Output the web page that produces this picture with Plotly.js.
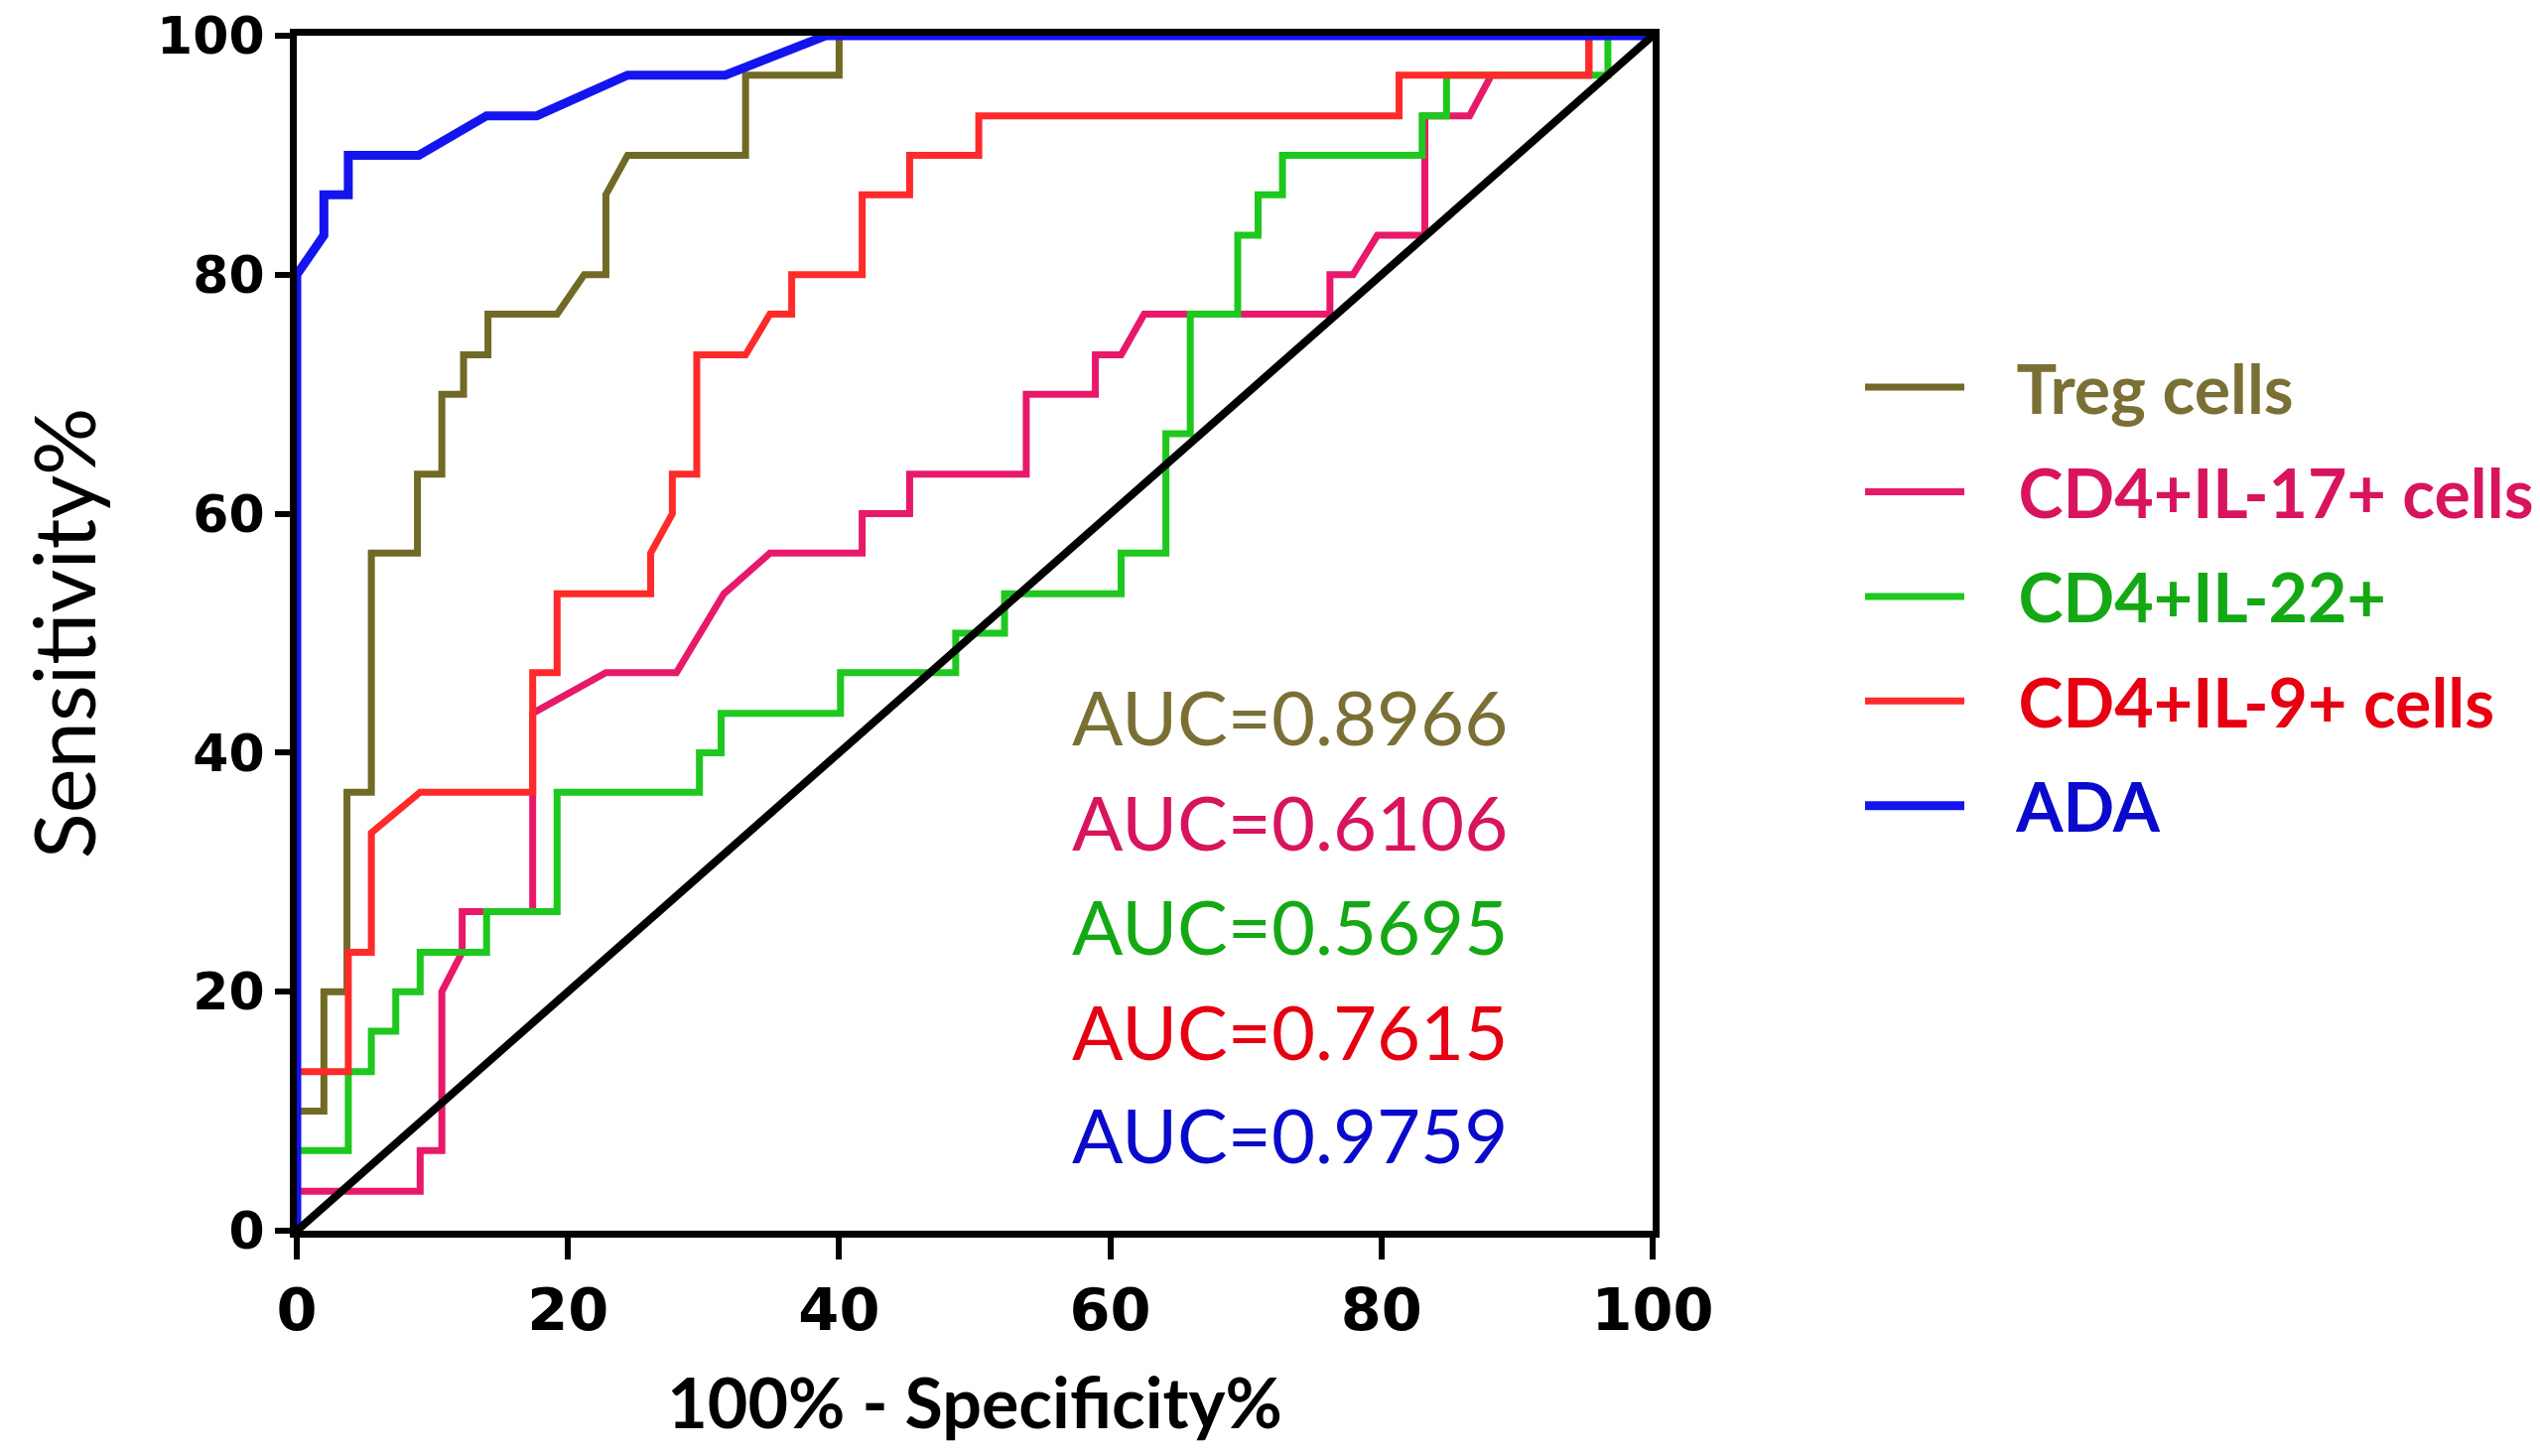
<!DOCTYPE html>
<html>
<head>
<meta charset="utf-8">
<script src="https://cdn.plot.ly/plotly-3.0.1.min.js"></script>
<style>
html,body{margin:0;padding:0;background:#fff;}
#chart{width:2559px;height:1467px;}
</style>
</head>
<body>
<div id="chart"></div>
<script>
// ---- data ----
const seriesNames = ["Treg cells", "CD4+IL-17+ cells", "CD4+IL-22+", "CD4+IL-9+ cells", "ADA"];
const aucValues = ["0.8966", "0.6106", "0.5695", "0.7615", "0.9759"];

const fprTreg = [0,0,2,2,3.7,3.7,5.5,5.5,8.9,8.9,10.7,10.7,12.3,12.3,14.1,14.1,19.2,21.2,22.8,22.8,24.4,33.1,33.1,40,40,100];
const tprTreg = [0,10,10,20,20,36.7,36.7,56.7,56.7,63.3,63.3,70,70,73.3,73.3,76.7,76.7,80,80,86.7,90,90,96.7,96.7,100,100];

const fprIL17 = [0,0,9.1,9.1,10.7,10.7,12.2,12.2,17.4,17.4,22.8,28,31.5,34.9,41.7,41.7,45.2,45.2,53.8,53.8,58.9,58.9,60.8,62.5,76.2,76.2,77.9,79.7,83.2,83.2,86.5,88.1,95.3,95.3,100];
const tprIL17 = [0,3.3,3.3,6.7,6.7,20,23.3,26.7,26.7,43.3,46.7,46.7,53.3,56.7,56.7,60,60,63.3,63.3,70,70,73.3,73.3,76.7,76.7,80,80,83.3,83.3,93.3,93.3,96.7,96.7,100,100];

const fprIL22 = [0,0,3.8,3.8,5.5,5.5,7.3,7.3,9.1,9.1,14,14,19.2,19.2,29.7,29.7,31.3,31.3,40.1,40.1,48.6,48.6,52.2,52.2,60.8,60.8,64.1,64.1,65.9,65.9,69.4,69.4,70.9,70.9,72.7,72.7,83,83,84.8,84.8,96.7,96.7,100];
const tprIL22 = [0,6.7,6.7,13.3,13.3,16.7,16.7,20,20,23.3,23.3,26.7,26.7,36.7,36.7,40,40,43.3,43.3,46.7,46.7,50,50,53.3,53.3,56.7,56.7,66.7,66.7,76.7,76.7,83.3,83.3,86.7,86.7,90,90,93.3,93.3,96.7,96.7,100,100];

const fprIL9 = [0,0,3.8,3.8,5.5,5.5,9.1,17.4,17.4,19.2,19.2,26.1,26.1,27.7,27.7,29.5,29.5,33.1,34.9,36.5,36.5,41.7,41.7,45.2,45.2,50.3,50.3,81.3,81.3,95.3,95.3,100];
const tprIL9 = [0,13.3,13.3,23.3,23.3,33.3,36.7,36.7,46.7,46.7,53.3,53.3,56.7,60,63.3,63.3,73.3,73.3,76.7,76.7,80,80,86.7,86.7,90,90,93.3,93.3,96.7,96.7,100,100];

const fprADA = [0,0,2,2,3.8,3.8,9,14,17.7,24.4,31.6,39,100];
const tprADA = [0,80,83.3,86.7,86.7,90,90,93.3,93.3,96.7,96.7,100,100];

const refLine = [0, 100];
const xTicks = [0, 20, 40, 60, 80, 100];
const yTicks = [0, 20, 40, 60, 80, 100];
const aucY = [43.1, 34.3, 25.5, 16.7, 8.1];

// ---- styles ----
const lineColors = ["#716a27", "#e8196b", "#1ec81e", "#ff2a2a", "#1414ee"];
const textColors = ["#7a7035", "#d8145e", "#15a815", "#e60012", "#0a0acc"];
const lineWidths = [7, 7, 7, 7, 9];
const gap = "\u00a0\u00a0\u00a0";

const xs = [fprTreg, fprIL17, fprIL22, fprIL9, fprADA];
const ys = [tprTreg, tprIL17, tprIL22, tprIL9, tprADA];

const traces = seriesNames.map((n, i) => ({
  type: "scatter",
  mode: "lines",
  x: xs[i],
  y: ys[i],
  name: gap + '<span style="color:' + textColors[i] + '">' + n + '</span>',
  legendgroup: "g" + i,
  line: {color: lineColors[i], width: lineWidths[i], shape: "linear"},
  hoverinfo: "skip"
}));

traces.push({
  type: "scatter", mode: "lines",
  x: refLine, y: refLine,
  line: {color: "#000", width: 8},
  showlegend: false, hoverinfo: "skip"
});

const annotations = aucValues.map((v, i) => ({
  xref: "x", yref: "y", x: 57, y: aucY[i],
  xanchor: "left", yanchor: "middle",
  text: "AUC=" + v, showarrow: false,
  font: {family: "Lato, 'Open Sans', sans-serif", size: 76, color: textColors[i]}
}));

const layout = {
  width: 2559, height: 1467,
  paper_bgcolor: "#fff", plot_bgcolor: "#fff",
  margin: {l: 299, r: 894, t: 36, b: 227, autoexpand: false},
  showlegend: true,
  legend: {
    x: 1.153, xanchor: "left", y: 0.748, yanchor: "top",
    font: {family: "Lato, 'Open Sans', sans-serif", size: 68, weight: "bold", color: "#000"},
    tracegroupgap: 14, itemwidth: 100, bgcolor: "rgba(0,0,0,0)"
  },
  xaxis: {
    range: [0, 100], tickvals: xTicks, ticktext: xTicks.map(String),
    showline: true, linecolor: "#000", linewidth: 7, mirror: true,
    ticks: "outside", ticklen: 22, tickwidth: 6, tickcolor: "#000",
    showgrid: false, zeroline: false, layer: "below traces",
    tickfont: {family: "'DejaVu Sans', sans-serif", size: 59, weight: "bold", color: "#000"},
    title: {text: "100% - Specificity%", standoff: 40,
      font: {family: "Lato, 'Open Sans', sans-serif", size: 70, weight: "bold", color: "#000"}},
    fixedrange: true
  },
  yaxis: {
    range: [0, 100], tickvals: yTicks, ticktext: yTicks.map(String),
    showline: true, linecolor: "#000", linewidth: 7, mirror: true,
    ticks: "outside", ticklen: 15, tickwidth: 6, tickcolor: "#000",
    showgrid: false, zeroline: false, layer: "below traces",
    tickfont: {family: "'DejaVu Sans', sans-serif", size: 52, weight: "bold", color: "#000"},
    title: {text: "Sensitivity%", standoff: 36,
      font: {family: "Lato, 'Open Sans', sans-serif", size: 85, color: "#000"}},
    fixedrange: true
  },
  annotations: annotations
};

Plotly.newPlot("chart", traces, layout, {staticPlot: true, displayModeBar: false});
</script>
</body>
</html>
